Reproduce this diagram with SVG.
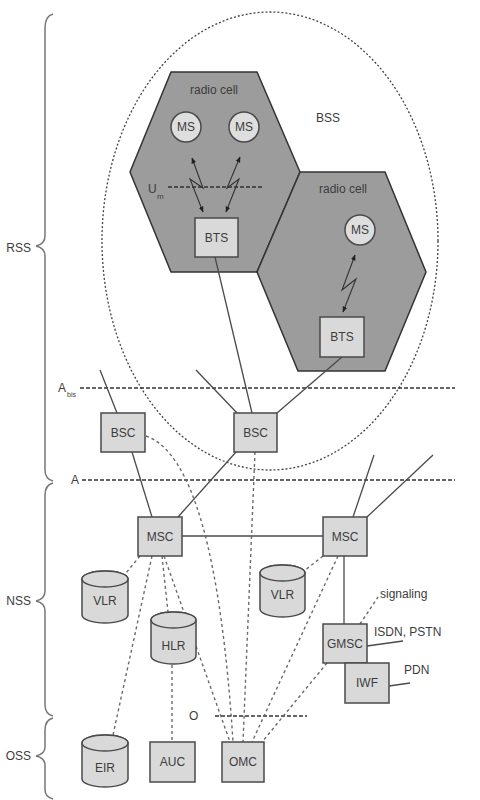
<svg xmlns="http://www.w3.org/2000/svg" width="480" height="800" viewBox="0 0 480 800">
<style>
text{font-family:"Liberation Sans",Arial,sans-serif;font-size:12px;fill:#3c3c3c}
.lbl{text-anchor:middle}
.box{fill:#d9d9d9;stroke:#4a4a4a;stroke-width:1.5}
.hex{fill:#9c9c9c;stroke:#333;stroke-width:1.5}
.ms{fill:#dedede;stroke:#4a4a4a;stroke-width:1.5}
.solid{fill:none;stroke:#4a4a4a;stroke-width:1.3}
.dash{fill:none;stroke:#6a6a6a;stroke-width:1.4;stroke-dasharray:3 3}
.iface{fill:none;stroke:#333;stroke-width:1.3;stroke-dasharray:4 2}
.dot{fill:none;stroke:#444;stroke-width:1.3;stroke-dasharray:2 2}
.brace{fill:none;stroke:#777;stroke-width:1.5}
.radio{fill:none;stroke:#333;stroke-width:1.1;marker-start:url(#ah);marker-end:url(#ah)}
</style>
<defs>
<marker id="ah" viewBox="0 0 10 10" refX="9" refY="5" markerWidth="6" markerHeight="6" orient="auto-start-reverse" markerUnits="userSpaceOnUse"><path d="M0,1 L10,5 L0,9 Z" fill="#222"/></marker>
</defs>
<rect width="480" height="800" fill="#fff"/>

<!-- braces -->
<g id="braces">
<path class="brace" d="M53,14 Q45,16 45,28 V236 Q45,244 36,246 Q45,248 45,256 V470 Q45,479 53,481"/>
<path class="brace" d="M53,483 Q45,485 45,495 V591 Q45,599 36,601 Q45,603 45,611 V705 Q45,714 53,716"/>
<path class="brace" d="M53,718 Q45,720 45,730 V747 Q45,754 36,756 Q45,758 45,765 V790 Q45,797 53,799"/>
<text x="31" y="252" text-anchor="end">RSS</text>
<text x="31" y="605" text-anchor="end">NSS</text>
<text x="31" y="760" text-anchor="end">OSS</text>
</g>

<!-- radio cells -->
<g id="cell1"><polygon class="hex" points="171,72 257,72 300,172 257,272 171,272 130,172"/><text class="lbl" x="214" y="94">radio cell</text></g>
<g id="cell2"><polygon class="hex" points="300,172 385,172 426,272 385,371 298,371 257,272"/><text class="lbl" x="343" y="193">radio cell</text></g>

<!-- BSS boundary -->
<g id="bss"><ellipse class="dot" cx="270" cy="241" rx="168" ry="229"/><text class="lbl" x="328" y="122">BSS</text></g>

<!-- interfaces -->
<g id="interfaces">
<line class="iface" x1="168" y1="187" x2="263" y2="187"/>
<text x="148" y="193">U</text><text x="157" y="199" style="font-size:8px">m</text>
<line class="iface" x1="80" y1="388" x2="455" y2="388"/>
<text x="58" y="392">A</text><text x="67" y="397" style="font-size:7px">bis</text>
<line class="iface" x1="82" y1="480" x2="455" y2="480"/>
<text x="71" y="484">A</text>
<line class="iface" x1="215" y1="716" x2="307" y2="716"/>
<text x="189" y="720">O</text>
</g>

<!-- connectors -->
<g id="connectors">
<path class="radio" d="M192,158 L203,188 L190,179 L203,212"/>
<path class="radio" d="M240,157 L227,188 L239,179 L226,212"/>
<path class="radio" d="M355,255 L342,290 L356,279 L343,312"/>
<line class="solid" x1="215" y1="257" x2="252" y2="413"/>
<line class="solid" x1="342" y1="357" x2="277" y2="413"/>
<line class="solid" x1="100" y1="370" x2="117" y2="413"/>
<line class="solid" x1="196" y1="370" x2="237" y2="413"/>
<line class="solid" x1="132" y1="452" x2="152" y2="517"/>
<line class="solid" x1="236" y1="452" x2="178" y2="517"/>
<line class="solid" x1="182" y1="536" x2="323" y2="536"/>
<line class="solid" x1="353" y1="517" x2="374" y2="455"/>
<line class="solid" x1="367" y1="517" x2="433" y2="455"/>
<line class="solid" x1="344" y1="556" x2="344" y2="624"/>
<line class="solid" x1="367" y1="646" x2="403" y2="641"/>
<line class="solid" x1="389" y1="686" x2="410" y2="683"/>
<path class="dash" d="M146,436 Q215,460 233,742"/>
<line class="dash" x1="255" y1="452" x2="243" y2="742"/>
<line class="dash" x1="140" y1="556" x2="126" y2="573"/>
<line class="dash" x1="152" y1="556" x2="113" y2="735"/>
<line class="dash" x1="162" y1="556" x2="168" y2="612"/>
<line class="dash" x1="164" y1="556" x2="230" y2="742"/>
<line class="dash" x1="172" y1="665" x2="172" y2="742"/>
<line class="dash" x1="323" y1="556" x2="304" y2="571"/>
<line class="dash" x1="338" y1="556" x2="252" y2="742"/>
<line class="dash" x1="327" y1="663" x2="262" y2="742"/>
<line class="dash" x1="360" y1="624" x2="378" y2="597"/>
</g>

<!-- nodes -->
<g id="ms1"><circle class="ms" cx="186" cy="127" r="15"/><text class="lbl" x="186" y="131">MS</text></g>
<g id="ms2"><circle class="ms" cx="244" cy="127" r="15"/><text class="lbl" x="244" y="131">MS</text></g>
<g id="ms3"><circle class="ms" cx="360" cy="230" r="15"/><text class="lbl" x="360" y="234">MS</text></g>
<g id="bts1"><rect class="box" x="195" y="218" width="43" height="39"/><text class="lbl" x="216.5" y="242">BTS</text></g>
<g id="bts2"><rect class="box" x="320" y="317" width="44" height="40"/><text class="lbl" x="342" y="341">BTS</text></g>
<g id="bsc1"><rect class="box" x="101" y="413" width="44" height="39"/><text class="lbl" x="123" y="437">BSC</text></g>
<g id="bsc2"><rect class="box" x="234" y="413" width="43" height="39"/><text class="lbl" x="255.5" y="437">BSC</text></g>
<g id="msc1"><rect class="box" x="138" y="517" width="44" height="39"/><text class="lbl" x="160" y="541">MSC</text></g>
<g id="msc2"><rect class="box" x="323" y="517" width="44" height="39"/><text class="lbl" x="345" y="541">MSC</text></g>
<g id="gmsc"><rect class="box" x="323" y="624" width="44" height="39"/><text class="lbl" x="345" y="648">GMSC</text></g>
<g id="iwf"><rect class="box" x="345" y="663" width="44" height="40"/><text class="lbl" x="367" y="687">IWF</text></g>
<g id="auc"><rect class="box" x="150" y="742" width="45" height="40"/><text class="lbl" x="172.5" y="766">AUC</text></g>
<g id="omc"><rect class="box" x="222" y="742" width="42" height="40"/><text class="lbl" x="243" y="766">OMC</text></g>
<g id="vlr1"><path class="box" d="M82,579 A23,8 0 0 1 128,579 V615 A23,8 0 0 1 82,615 Z"/><ellipse class="box" cx="105" cy="579" rx="23" ry="8"/><text class="lbl" x="105" y="605">VLR</text></g>
<g id="vlr2"><path class="box" d="M260,573 A22.5,8 0 0 1 305,573 V609 A22.5,8 0 0 1 260,609 Z"/><ellipse class="box" cx="282.5" cy="573" rx="22.5" ry="8"/><text class="lbl" x="282.5" y="599">VLR</text></g>
<g id="hlr"><path class="box" d="M151,620 A22.5,8 0 0 1 196,620 V656 A22.5,8 0 0 1 151,656 Z"/><ellipse class="box" cx="173.5" cy="620" rx="22.5" ry="8"/><text class="lbl" x="173.5" y="650">HLR</text></g>
<g id="eir"><path class="box" d="M82,743 A23,8 0 0 1 128,743 V779 A23,8 0 0 1 82,779 Z"/><ellipse class="box" cx="105" cy="743" rx="23" ry="8"/><text class="lbl" x="105" y="772">EIR</text></g>

<g id="labels">
<text x="380" y="598">signaling</text>
<text x="374" y="636">ISDN, PSTN</text>
<text x="404" y="674">PDN</text>
</g>
</svg>
